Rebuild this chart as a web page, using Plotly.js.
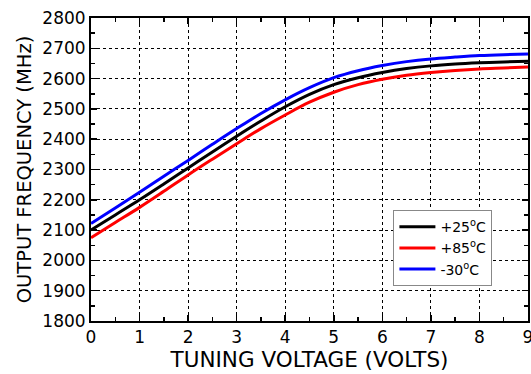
<!DOCTYPE html>
<html><head><meta charset="utf-8">
<script src="https://cdn.plot.ly/plotly-3.0.1.min.js"></script>
<style>body{margin:0;padding:0;background:#fff}#chart{width:531px;height:374px}</style>
</head><body><div id="chart"></div>
<script>
const voltage = [0, 0.5, 1, 1.5, 2, 2.5, 3, 3.5, 4, 4.5, 5, 5.5, 6, 6.5, 7, 7.5, 8, 8.5, 9];
const freq25 = [2100, 2150, 2200, 2252, 2305, 2358, 2410, 2460, 2507, 2548, 2580, 2603, 2620, 2633, 2642, 2648, 2652, 2655, 2657];
const freq85 = [2075, 2125, 2175, 2228, 2282, 2334, 2385, 2435, 2480, 2522, 2555, 2580, 2598, 2611, 2620, 2627, 2632, 2635, 2638];
const freqM30 = [2122, 2173, 2225, 2278, 2330, 2383, 2435, 2485, 2530, 2570, 2603, 2626, 2643, 2656, 2665, 2671, 2676, 2679, 2681];
const seriesNames = ['+25<sup>o</sup>C', '+85<sup>o</sup>C', '-30<sup>o</sup>C'];
const seriesColors = ['#000000', '#ff0000', '#0000ff'];
const xTicks = [0,1,2,3,4,5,6,7,8,9];
const yTicks = [1800,1900,2000,2100,2200,2300,2400,2500,2600,2700,2800];

const allY = [freq25, freq85, freqM30];
const traces = allY.map((y, i) => ({
  x: voltage, y: y, type: 'scatter', mode: 'lines', name: seriesNames[i],
  line: {color: seriesColors[i], width: 3, shape: 'spline'}
}));

const font = {family: 'DejaVu Sans, Arial, sans-serif', color: '#000'};
const layout = {
  width: 531, height: 374,
  margin: {l: 91, r: 3, t: 18, b: 53},
  paper_bgcolor: '#fff', plot_bgcolor: '#fff',
  font: Object.assign({size: 17}, font),
  showlegend: true,
  legend: {x: 0.692, y: 0.366, xanchor: 'left', yanchor: 'top',
    bordercolor: '#888', borderwidth: 1, bgcolor: '#fff',
    font: Object.assign({size: 14}, font), tracegroupgap: 0, itemwidth: 36},
  xaxis: {
    range: [0, 9], tickvals: xTicks, ticktext: xTicks.map(String),
    showline: true, linecolor: '#000', linewidth: 2, mirror: 'allticks',
    ticks: 'inside', ticklen: 6, tickwidth: 1.5, tickcolor: '#000',
    showgrid: true, gridcolor: '#000', griddash: 'dot', gridwidth: 1,
    zeroline: false, ticklabeloverflow: 'allow',
    tickfont: Object.assign({size: 17}, font),
    minor: {dtick: 0.5, ticks: 'inside', ticklen: 4, tickcolor: '#000', tickwidth: 1.5, showgrid: false},
    title: {text: 'TUNING VOLTAGE (VOLTS)', font: Object.assign({size: 21.5}, font), standoff: 3}
  },
  yaxis: {
    range: [1800, 2800], tickvals: yTicks, ticktext: yTicks.map(String),
    showline: true, linecolor: '#000', linewidth: 2, mirror: 'allticks',
    ticks: 'inside', ticklen: 6, tickwidth: 1.5, tickcolor: '#000',
    showgrid: true, gridcolor: '#000', griddash: 'dot', gridwidth: 1,
    zeroline: false, tickfont: Object.assign({size: 17}, font),
    minor: {dtick: 50, ticks: 'inside', ticklen: 4, tickcolor: '#000', tickwidth: 1.5, showgrid: false},
    title: {text: 'OUTPUT FREQUENCY (MHz)', font: Object.assign({size: 19.5}, font), standoff: 6}
  }
};
Plotly.newPlot('chart', traces, layout, {displayModeBar: false, staticPlot: true});
</script></body></html>
